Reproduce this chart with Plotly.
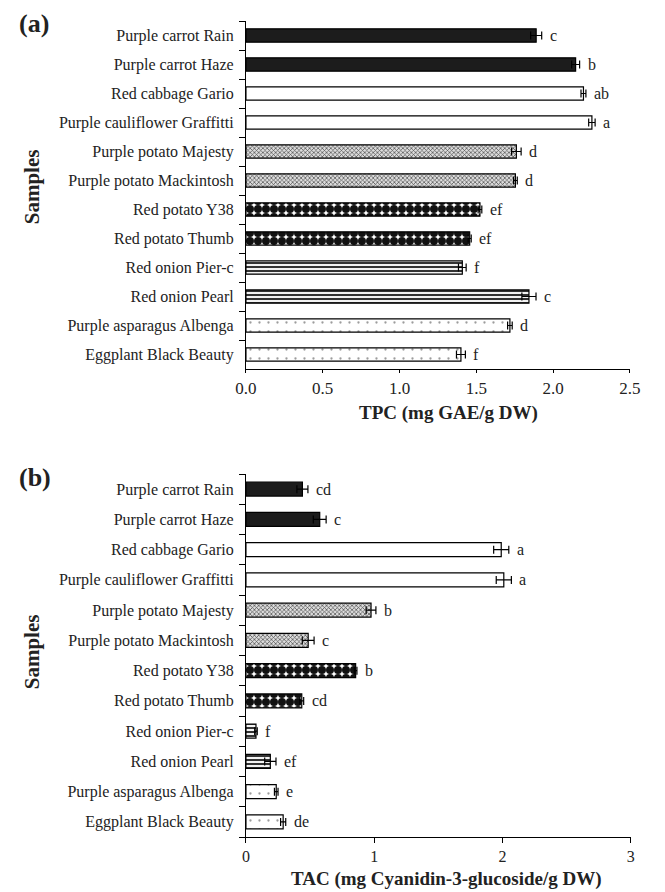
import plotly.graph_objects as go

samples = ["Purple carrot Rain", "Purple carrot Haze", "Red cabbage Gario",
           "Purple cauliflower Graffitti", "Purple potato Majesty",
           "Purple potato Mackintosh", "Red potato Y38", "Red potato Thumb",
           "Red onion Pier-c", "Red onion Pearl", "Purple asparagus Albenga",
           "Eggplant Black Beauty"]
groups = ["carrot", "carrot", "brassica", "brassica", "ppotato", "ppotato",
          "rpotato", "rpotato", "onion", "onion", "dotted", "dotted"]

tpc_values = [1.89, 2.147, 2.198, 2.253, 1.761, 1.755, 1.524, 1.457, 1.409, 1.843, 1.719, 1.40]
tpc_errors = [0.036, 0.026, 0.016, 0.021, 0.031, 0.012, 0.012, 0.01, 0.025, 0.046, 0.015, 0.029]
tpc_letters = ["c", "b", "ab", "a", "d", "d", "ef", "ef", "f", "c", "d", "f"]

tac_values = [0.44, 0.575, 1.99, 2.01, 0.975, 0.485, 0.855, 0.435, 0.078, 0.19, 0.236, 0.29]
tac_errors = [0.043, 0.05, 0.059, 0.059, 0.038, 0.046, 0.01, 0.015, 0.01, 0.044, 0.014, 0.02]
tac_letters = ["cd", "c", "a", "a", "b", "c", "b", "cd", "f", "ef", "e", "de"]

tpc_ticks = [0.0, 0.5, 1.0, 1.5, 2.0, 2.5]
tpc_ticktext = ["0.0", "0.5", "1.0", "1.5", "2.0", "2.5"]
tac_ticks = [0, 1, 2, 3]

FONT = "Liberation Serif, Times New Roman, serif"
INK = "#222222"

styles = {
    "carrot": dict(color="#1c1c1c", pattern=dict(shape="")),
    "brassica": dict(color="white", pattern=dict(shape="")),
    "ppotato": dict(color="#c8c8c8", pattern=dict(shape="x", fgcolor="#4a4a4a", bgcolor="#dcdcdc",
                                                  size=3, solidity=0.4, fillmode="replace")),
    "rpotato": dict(color="white", pattern=dict(shape=".", fgcolor="#111111", bgcolor="white",
                                                size=8, solidity=0.78, fillmode="replace")),
    "onion": dict(color="white", pattern=dict(shape="-", fgcolor="#333333", bgcolor="#f2f2f2",
                                              size=4, solidity=0.5, fillmode="replace")),
    "dotted": dict(color="white", pattern=dict(shape=".", fgcolor="#9a9a9a", bgcolor="white",
                                               size=9, solidity=0.05, fillmode="replace")),
}

fig = go.Figure()


def add_panel(values, errors, letters, xa, ya):
    for g in ["carrot", "brassica", "ppotato", "rpotato", "onion", "dotted"]:
        idx = [i for i, gg in enumerate(groups) if gg == g]
        st = styles[g]
        fig.add_trace(go.Bar(
            orientation="h",
            y=[samples[i] for i in idx],
            x=[values[i] for i in idx],
            error_x=dict(type="data", array=[errors[i] for i in idx], color="black",
                         thickness=1.2, width=4),
            marker=dict(color=st["color"], pattern=st["pattern"],
                        line=dict(color="black", width=1.2)),
            width=0.46,
            xaxis=xa, yaxis=ya, showlegend=False, hoverinfo="skip",
        ))
    xref = "x" if xa == "x" else "x2"
    yref = "y" if ya == "y" else "y2"
    for i, s in enumerate(samples):
        fig.add_annotation(x=values[i] + errors[i], y=s, xref=xref, yref=yref,
                           text=letters[i], showarrow=False, xanchor="left", xshift=6,
                           font=dict(family=FONT, size=16, color=INK))


add_panel(tpc_values, tpc_errors, tpc_letters, "x", "y")
add_panel(tac_values, tac_errors, tac_letters, "x2", "y2")

W, H = 665, 892
ax_common_y = dict(
    type="category", categoryorder="array", categoryarray=samples[::-1],
    showline=True, linecolor="black", linewidth=1.2, ticks="outside", ticklen=6,
    tickcolor="black", tickson="boundaries", showgrid=False, zeroline=False,
    tickfont=dict(family=FONT, size=16, color=INK), ticklabelstandoff=8,
)

fig.update_layout(
    width=W, height=H, margin=dict(l=0, r=0, t=0, b=0),
    paper_bgcolor="white", plot_bgcolor="white", barmode="overlay",
    xaxis=dict(domain=[243 / W, 640 / W], range=[0, 2.5], tickvals=tpc_ticks,
               ticktext=tpc_ticktext,
               showline=True, linecolor="black", linewidth=1.2, ticks="outside",
               ticklen=3, tickcolor="black",
               showgrid=False, zeroline=False, anchor="y",
               tickfont=dict(family=FONT, size=17, color=INK)),
    yaxis=dict(domain=[1 - 369 / H, 1 - 21 / H], anchor="x", **ax_common_y),
    xaxis2=dict(domain=[243 / W, 641 / W], range=[0, 3], tickvals=tac_ticks,
                showline=True, linecolor="black", linewidth=1.2, ticks="outside",
                ticklen=5, tickcolor="black", showgrid=False, zeroline=False, anchor="y2",
                tickfont=dict(family=FONT, size=16, color=INK)),
    yaxis2=dict(domain=[1 - 837 / H, 1 - 474 / H], anchor="x2", **ax_common_y),
)

# axis titles
fig.add_annotation(x=452 / W, y=1 - 413 / H, xref="paper", yref="paper",
                   text="<b>TPC (mg GAE/g DW)</b>", showarrow=False,
                   xanchor="center", yanchor="middle",
                   font=dict(family=FONT, size=19, color=INK))
fig.add_annotation(x=450 / W, y=1 - 879 / H, xref="paper", yref="paper",
                   text="<b>TAC (mg Cyanidin-3-glucoside/g DW)</b>", showarrow=False,
                   xanchor="center", yanchor="middle",
                   font=dict(family=FONT, size=19, color=INK))

for lab, ypx, sy in [("(a)", 23, 187), ("(b)", 477, 652)]:
    fig.add_annotation(x=6 / W, y=1 - ypx / H, xref="paper", yref="paper",
                       text=f"<b>{lab}</b>", showarrow=False, xanchor="left", yanchor="middle",
                       font=dict(family=FONT, size=26, color=INK))
    fig.add_annotation(x=22 / W, y=1 - sy / H, xref="paper", yref="paper",
                       text="<b>Samples</b>", showarrow=False, textangle=-90,
                       xanchor="center", yanchor="middle",
                       font=dict(family=FONT, size=21, color=INK))

fig.write_html("out.html", config={"displayModeBar": False},
               post_script="document.body.style.margin='0';document.body.style.padding='0';")
